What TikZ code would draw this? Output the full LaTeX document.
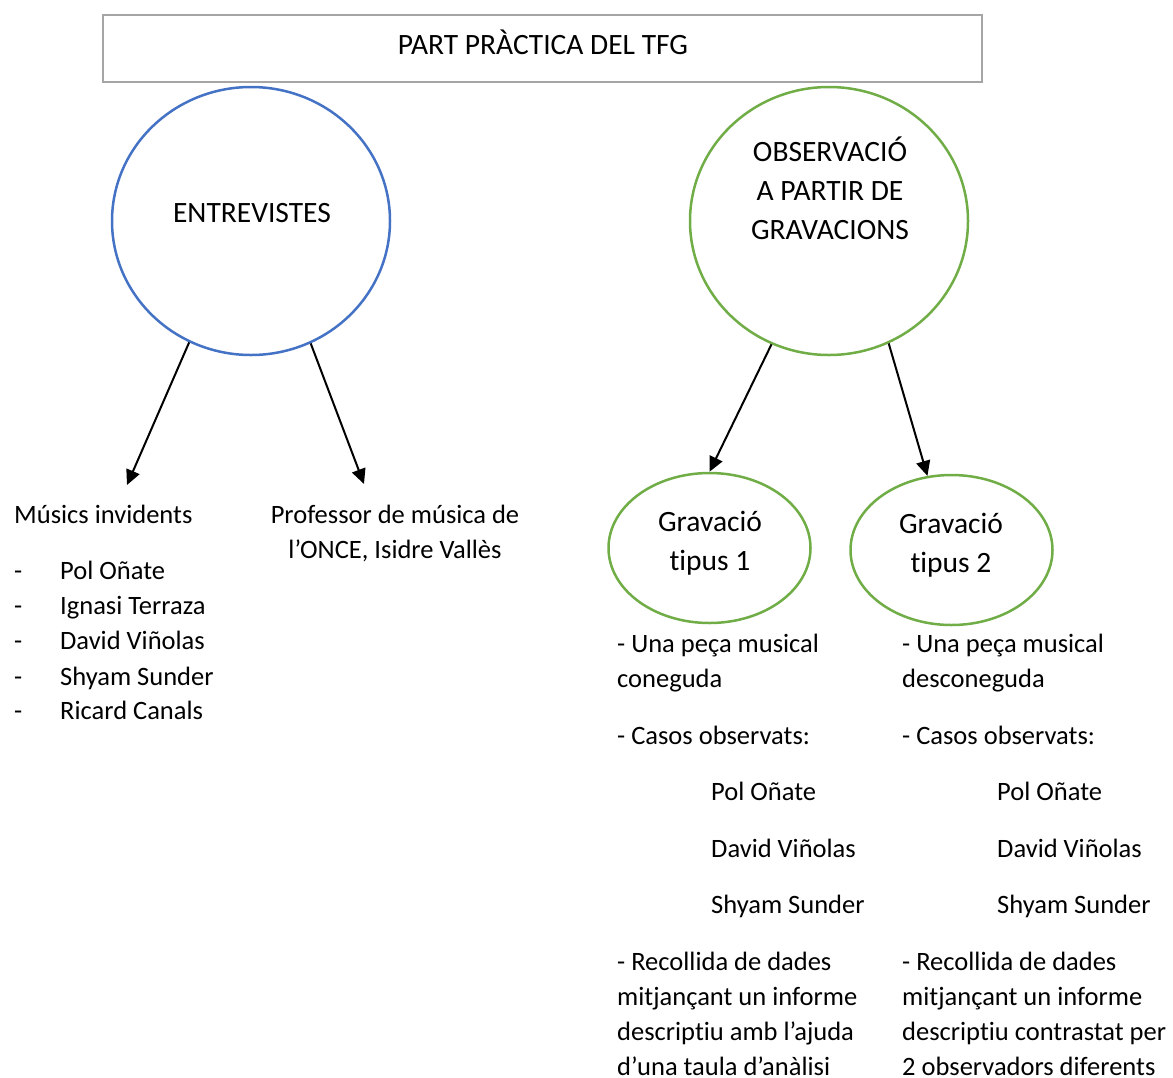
\documentclass[tikz,border=0pt]{standalone}
\usepackage{fontspec}
\setmainfont{Carlito}[Ligatures=NoCommon]
\usetikzlibrary{shapes.geometric,arrows.meta}
\definecolor{cblue}{HTML}{4472C4}
\definecolor{cgreen}{HTML}{70AD47}
\definecolor{cgray}{HTML}{A5A5A5}
\begin{document}
\begin{tikzpicture}[x=1pt,y=-1pt,
  txt/.style={inner sep=0pt,font=\fontsize{26.5}{35}\selectfont},
  lt/.style={txt,anchor=base west},
  ct/.style={txt,anchor=base},
  hd/.style={inner sep=0pt,anchor=base,font=\fontsize{29.5}{39}\selectfont},
  bub/.style={ellipse,draw,line width=2.5pt,inner sep=0pt},
  arr/.style={line width=2pt,-{Triangle[length=15pt,width=14pt]}}
]
\useasboundingbox (0,0) rectangle (1173,1077);
% title box
\node[draw=cgray,line width=2.5pt,minimum width=879pt,minimum height=67pt,inner sep=0pt] (top) at (542.5,48.5) {};
\node[hd] (toptxt) at (543,54.5) {PART PRÀCTICA DEL TFG};
% main circles
\node[bub,draw=cblue,minimum width=278pt,minimum height=268pt] (ent) at (251,221) {};
\node[hd] (entt) at (252,222.5) {ENTREVISTES};
\node[bub,draw=cgreen,minimum width=278pt,minimum height=268pt] (obs) at (829,221) {};
\node[hd] (obs1) at (830,161.5) {OBSERVACIÓ};
\node[hd] (obs2) at (830,200.5) {A PARTIR DE};
\node[hd] (obs3) at (830,239.5) {GRAVACIONS};
% small ellipses
\node[bub,draw=cgreen,minimum width=202pt,minimum height=150pt] (g1) at (709.5,548) {};
\node[hd] (g1a) at (710,531) {Gravació};
\node[hd] (g1b) at (710,570) {tipus 1};
\node[bub,draw=cgreen,minimum width=202pt,minimum height=150pt] (g2) at (951.5,550) {};
\node[hd] (g2a) at (951,533) {Gravació};
\node[hd] (g2b) at (951,572) {tipus 2};
% arrow ends
\coordinate (e1) at (127,485);
\coordinate (e2) at (364,484);
\draw[arr] (ent.243) -- (e1);
\draw[arr] (ent.296) -- (e2);
\draw[arr] (obs.245) -- (g1.north);
\draw[arr] (obs.296) -- (g2.108);
% left texts
\node[lt] (mi) at (14,523) {Músics invidents};
\node[lt] (d1) at (14,579) {-};
\node[lt] (d2) at (14,614) {-};
\node[lt] (d3) at (14,649) {-};
\node[lt] (d4) at (14,685) {-};
\node[lt] (d5) at (14,719) {-};
\node[lt] (n1) at (60,579) {Pol Oñate};
\node[lt] (n2) at (60,614) {Ignasi Terraza};
\node[lt] (n3) at (60,649) {David Viñolas};
\node[lt] (n4) at (60,685) {Shyam Sunder};
\node[lt] (n5) at (60,719) {Ricard Canals};
\node[ct] (pr1) at (395,523) {Professor de música de};
\node[ct] (pr2) at (395,558) {l’ONCE, Isidre Vallès};
% column 1
\node[lt] (a1) at (617,652) {- Una peça musical};
\node[lt] (a2) at (617,687) {coneguda};
\node[lt] (a3) at (617,744) {- Casos observats:};
\node[lt] (a4) at (711,800) {Pol Oñate};
\node[lt] (a5) at (711,857) {David Viñolas};
\node[lt] (a6) at (711,913) {Shyam Sunder};
\node[lt] (a7) at (617,970) {- Recollida de dades};
\node[lt] (a8) at (617,1005) {mitjançant un informe};
\node[lt] (a9) at (617,1040) {descriptiu amb l’ajuda};
\node[lt,text depth=0pt] (a10) at (617,1075) {d’una taula d’anàlisi};
% column 2
\node[lt] (b1) at (902,652) {- Una peça musical};
\node[lt] (b2) at (902,687) {desconeguda};
\node[lt] (b3) at (902,744) {- Casos observats:};
\node[lt] (b4) at (997,800) {Pol Oñate};
\node[lt] (b5) at (997,857) {David Viñolas};
\node[lt] (b6) at (997,913) {Shyam Sunder};
\node[lt] (b7) at (902,970) {- Recollida de dades};
\node[lt] (b8) at (902,1005) {mitjançant un informe};
\node[lt] (b9) at (902,1040) {descriptiu contrastat per};
\node[lt,text depth=0pt] (b10) at (902,1075) {2 observadors diferents};
\end{tikzpicture}
\end{document}
